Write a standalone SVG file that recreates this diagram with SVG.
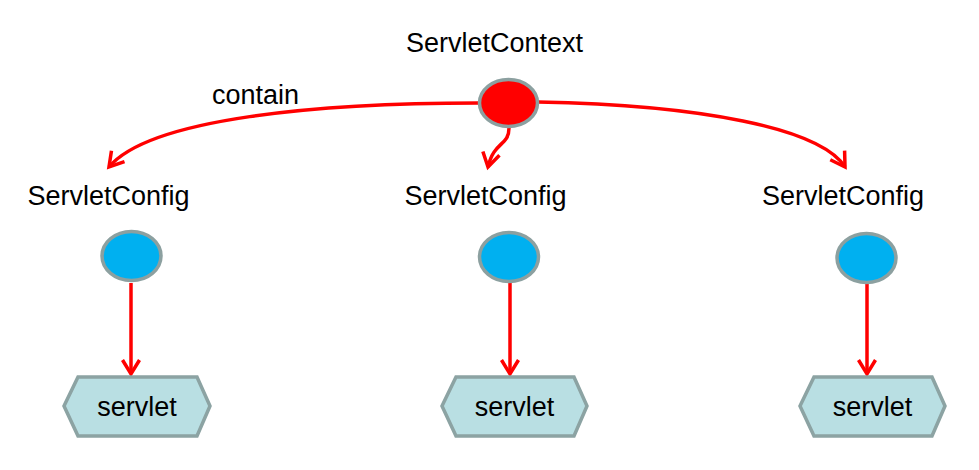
<svg xmlns="http://www.w3.org/2000/svg" width="979" height="470" viewBox="0 0 979 470">
<style>
text{font-family:"Liberation Sans",Arial,sans-serif;font-size:27px;fill:#000;text-anchor:middle}
.ctx{fill:#ff0000;stroke:#8ca0a0;stroke-width:3.5}
.cfg{fill:#00b0f0;stroke:#8ca0a0;stroke-width:3.5}
.hex{fill:#b9dfe3;stroke:#8ca3a3;stroke-width:3.5}
.edge{fill:none;stroke:#ff0000;stroke-width:3.5}
</style>
<defs>
<marker id="arr" markerUnits="userSpaceOnUse" markerWidth="24" markerHeight="24" viewBox="-16 -12 20 24" refX="0" refY="0" orient="auto">
<path d="M-14,-8.5 L0,0 L-14,8.5" fill="none" stroke="#ff0000" stroke-width="3.5"/>
</marker>
</defs>
<rect width="979" height="470" fill="#fff"/>
<g id="edges">
<path class="edge" d="M479,103 C320,103 150,118 109,167" marker-end="url(#arr)"/>
<path class="edge" d="M509,128 C509,146 494,141 488,167" marker-end="url(#arr)"/>
<path class="edge" d="M538,102 C700,105 820,128 845,167" marker-end="url(#arr)"/>
<path class="edge" d="M131,283 L131,374" marker-end="url(#arr)"/>
<path class="edge" d="M510,283 L510,374" marker-end="url(#arr)"/>
<path class="edge" d="M867,284 L867,374" marker-end="url(#arr)"/>
</g>
<text x="255.5" y="104">contain</text>
<g id="servletContext">
<text x="494.5" y="52">ServletContext</text>
<ellipse class="ctx" cx="508.5" cy="103" rx="29" ry="23.5"/>
</g>
<g id="config1">
<text x="108.5" y="205">ServletConfig</text>
<ellipse class="cfg" cx="131.5" cy="256" rx="29.5" ry="24.5"/>
</g>
<g id="config2">
<text x="485.5" y="205">ServletConfig</text>
<ellipse class="cfg" cx="509" cy="257" rx="29.5" ry="24.5"/>
</g>
<g id="config3">
<text x="843" y="205">ServletConfig</text>
<ellipse class="cfg" cx="866.5" cy="258" rx="29.5" ry="24.5"/>
</g>
<g id="servlet1">
<polygon class="hex" points="64,406 78,377 197,377 210,406 197,436 78,436"/>
<text x="137" y="416">servlet</text>
</g>
<g id="servlet2">
<polygon class="hex" points="442,406 456,377 574,377 587,406 574,436 456,436"/>
<text x="514.5" y="416">servlet</text>
</g>
<g id="servlet3">
<polygon class="hex" points="800,406 814,377 932,377 945,406 932,436 814,436"/>
<text x="872.5" y="416">servlet</text>
</g>
</svg>
